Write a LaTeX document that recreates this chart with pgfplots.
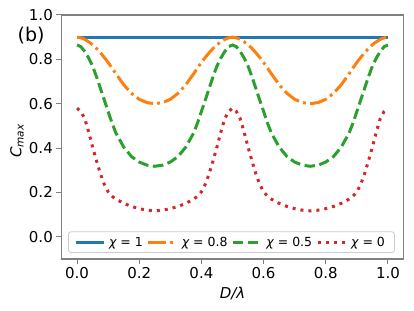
\documentclass[border=0pt]{standalone}
\usepackage{pgfplots}
\pgfplotsset{compat=1.18}
\usepackage{pgfplotstable}
\usepackage{fontspec}
\setmainfont{DejaVu Sans}
\definecolor{mblue}{HTML}{1F77B4}
\definecolor{morange}{HTML}{FF7F0E}
\definecolor{mgreen}{HTML}{2CA02C}
\definecolor{mred}{HTML}{D62728}
\pgfplotstableread{
D o g r
0.0000 0.900 0.865 0.580
0.0125 0.897 0.857 0.565
0.0250 0.890 0.835 0.532
0.0375 0.879 0.806 0.472
0.0500 0.866 0.770 0.405
0.0625 0.849 0.722 0.343
0.0750 0.830 0.670 0.285
0.0875 0.809 0.617 0.237
0.1000 0.786 0.565 0.203
0.1125 0.761 0.513 0.183
0.1250 0.735 0.468 0.170
0.1500 0.686 0.405 0.151
0.1750 0.647 0.362 0.137
0.2000 0.620 0.337 0.127
0.2250 0.605 0.323 0.120
0.2500 0.600 0.318 0.117
0.2750 0.605 0.323 0.120
0.3000 0.620 0.337 0.127
0.3250 0.647 0.362 0.137
0.3500 0.686 0.405 0.151
0.3750 0.735 0.468 0.170
0.3875 0.761 0.513 0.183
0.4000 0.786 0.565 0.203
0.4125 0.809 0.617 0.237
0.4250 0.830 0.670 0.285
0.4375 0.849 0.722 0.343
0.4500 0.866 0.770 0.405
0.4625 0.879 0.806 0.472
0.4750 0.890 0.835 0.532
0.4875 0.897 0.857 0.565
0.5000 0.900 0.865 0.580
0.5125 0.897 0.857 0.565
0.5250 0.890 0.835 0.532
0.5375 0.879 0.806 0.472
0.5500 0.866 0.770 0.405
0.5625 0.849 0.722 0.343
0.5750 0.830 0.670 0.285
0.5875 0.809 0.617 0.237
0.6000 0.786 0.565 0.203
0.6125 0.761 0.513 0.183
0.6250 0.735 0.468 0.170
0.6500 0.686 0.405 0.151
0.6750 0.647 0.362 0.137
0.7000 0.620 0.337 0.127
0.7250 0.605 0.323 0.120
0.7500 0.600 0.318 0.117
0.7750 0.605 0.323 0.120
0.8000 0.620 0.337 0.127
0.8250 0.647 0.362 0.137
0.8500 0.686 0.405 0.151
0.8750 0.735 0.468 0.170
0.8875 0.761 0.513 0.183
0.9000 0.786 0.565 0.203
0.9125 0.809 0.617 0.237
0.9250 0.830 0.670 0.285
0.9375 0.849 0.722 0.343
0.9500 0.866 0.770 0.405
0.9625 0.879 0.806 0.472
0.9750 0.890 0.835 0.532
0.9875 0.897 0.857 0.565
1.0000 0.900 0.865 0.580
}\datatab
\begin{document}
\begin{tikzpicture}
\begin{axis}[
  scale only axis, width=342bp, height=244bp,
  xmin=-0.05, xmax=1.05, ymin=-0.1, ymax=1.0,
  xtick={0,0.2,0.4,0.6,0.8,1}, xticklabels={0.0,0.2,0.4,0.6,0.8,1.0},
  ytick={0,0.2,0.4,0.6,0.8,1}, yticklabels={0.0,0.2,0.4,0.6,0.8,1.0},
  tick align=outside, tick pos=left, major tick length=5bp,
  tick style={gray, line width=1bp},
  axis line style={gray, line width=1.1bp},
  ticklabel style={font=\fontsize{15bp}{18bp}\selectfont},
  xticklabel style={anchor=base, yshift=-14bp, inner sep=0pt},
  yticklabel style={anchor=east, inner sep=0pt, xshift=-3.5bp},
  xlabel={\textit{D/λ}}, ylabel={\textit{C}\textsubscript{\textit{max}}},
  every axis x label/.style={at={(axis description cs:0.5,0)}, anchor=base, yshift=-39bp, font=\fontsize{15bp}{18bp}\selectfont, inner sep=0pt},
  every axis y label/.style={at={(axis description cs:-0.13,0.4836)}, rotate=90, anchor=center, font=\fontsize{15bp}{18bp}\selectfont, inner sep=0pt},
  clip mode=individual,
  legend columns=4,
  legend cell align=left,
  legend image code/.code={\draw[#1] (0bp,0bp) -- (28bp,0bp);},
  legend style={at={(axis description cs:0.497,0.0246)}, anchor=south,
    draw=black!20, line width=0.8bp, rounded corners=2.5bp, fill=white, fill opacity=0.8, text opacity=1,
    font=\fontsize{12.5bp}{15bp}\selectfont, inner xsep=5.5bp, inner ysep=2bp,
    nodes={inner xsep=4bp, inner ysep=3bp}},
]
\addplot[mblue, line width=3bp] coordinates {(0,0.9) (1,0.9)};
\addlegendentry{{\itshape χ} = 1\hspace{9bp}}
\addplot[morange, line width=3bp, dash pattern=on 17.5bp off 4.3bp on 2.8bp off 4.3bp] table[x=D,y=o] {\datatab};
\addlegendentry{{\itshape χ} = 0.8\hspace{9bp}}
\addplot[mgreen, line width=3bp, dash pattern=on 10.5bp off 4.5bp] table[x=D,y=g] {\datatab};
\addlegendentry{{\itshape χ} = 0.5\hspace{9bp}}
\addplot[mred, line width=3bp, dash pattern=on 3bp off 5bp] table[x=D,y=r] {\datatab};
\addlegendentry{{\itshape χ} = 0}
\node[font=\fontsize{19bp}{22bp}\selectfont, inner sep=0pt] at (axis description cs:-0.089,0.914) {(b)};
\coordinate (ll) at (axis description cs:0,0);
\end{axis}
\pgfresetboundingbox
\path[use as bounding box] (ll) ++(-61.5bp,-52bp) rectangle ++(414bp,311bp);
\end{tikzpicture}
\end{document}
